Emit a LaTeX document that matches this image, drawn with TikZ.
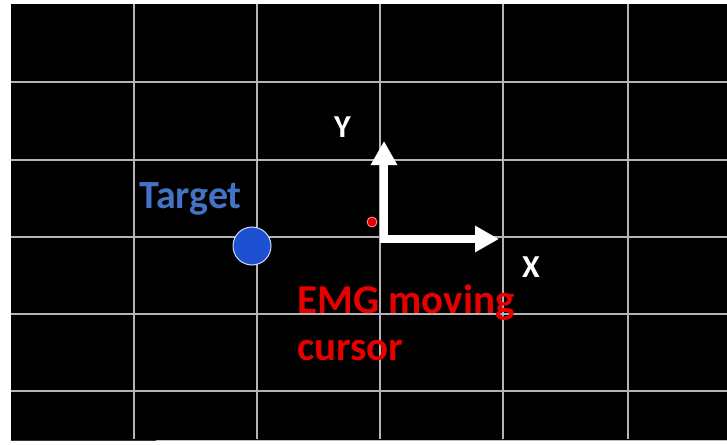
\documentclass[tikz,border=0pt]{standalone}
\usepackage{fontspec}
\setmainfont{Carlito}
\usetikzlibrary{arrows.meta}
\definecolor{gridgray}{HTML}{B4B4B4}
\definecolor{targetblue}{HTML}{1E50D2}
\definecolor{labelblue}{HTML}{4472C4}
\definecolor{cursorred}{HTML}{E60000}
\definecolor{barblue}{HTML}{2A3550}
\definecolor{barlight}{HTML}{B8C0C8}
\tikzset{
  gridline/.style={draw=gridgray, line width=1.4pt},
  axislabel/.style={text=white, font=\bfseries\fontsize{32}{32}\selectfont, inner sep=0pt, anchor=base west},
  axisarrow/.style={draw=white, line width=8pt, line join=miter,
    {Triangle[width=25pt,length=24pt]}-{Triangle[width=25pt,length=24pt]}},
}
\begin{document}
\begin{tikzpicture}[x=1pt, y=-1pt]
\useasboundingbox (0,0) rectangle (727,444);
% screen background
\fill[white] (0,0) rectangle (727,444);
\fill[black] (11,4) rectangle (727,440);
% grid
\foreach \gx in {134,257,380,503,628}
  \draw[gridline] (\gx,4) -- (\gx,439);
\foreach \gy in {82,160,237,314,391}
  \draw[gridline] (11,\gy) -- (727,\gy);
% playback bar along the bottom
\draw[barblue, line width=1.6pt] (11,440.5) -- (156,440.5);
\draw[barlight, line width=1.6pt] (156,440.5) -- (727,440.5);
% axes
\coordinate (ytip) at (384,141);
\coordinate (xtip) at (499,239);
\draw[axisarrow] (ytip) |- (xtip);
\node[axislabel] (ylab) at (334,137) {Y};
\node[axislabel] (xlab) at (522,277) {X};
% target and cursor
\node[circle, fill=targetblue, draw=white!80!targetblue, line width=1pt,
      minimum size=38pt, inner sep=0pt] (target) at (252,246) {};
\node[circle, fill=cursorred, draw=white!60!cursorred, line width=0.8pt,
      minimum size=10pt, inner sep=0pt] (cursor) at (372,222) {};
\node[text=labelblue, font=\bfseries\fontsize{40}{40}\selectfont,
      inner sep=0pt, anchor=base west] (targetlab) at (139,208) {Target};
% the base anchor of a two-line node sits on the last line
\node[text=cursorred, font=\bfseries\fontsize{41}{47}\selectfont,
      inner sep=0pt, anchor=base west, align=left] (cursorlab) at (297,360)
      {EMG moving\\cursor};
\end{tikzpicture}
\end{document}
